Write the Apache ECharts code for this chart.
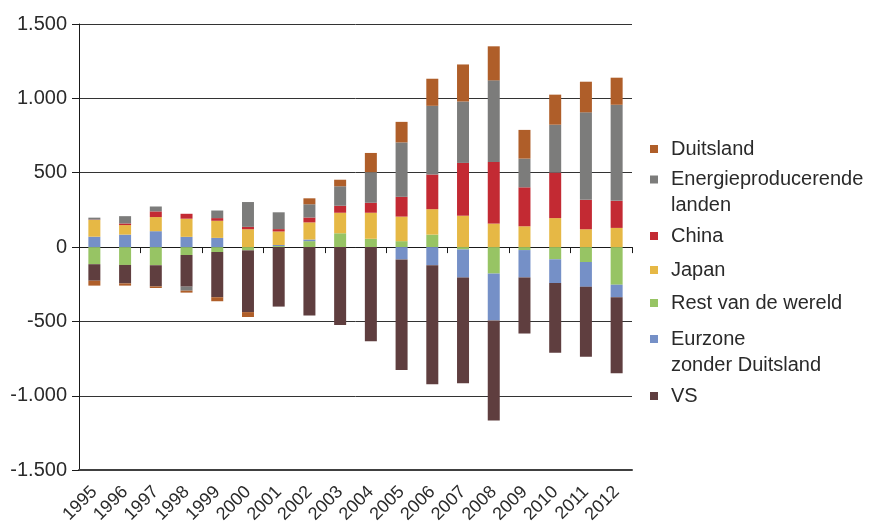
<!DOCTYPE html>
<html>
<head>
<meta charset="utf-8">
<script src="https://cdn.jsdelivr.net/npm/echarts@6/dist/echarts.min.js"></script>
<style>
html,body{margin:0;padding:0;background:#fff;}
#chart{width:869px;height:526px;}
</style>
</head>
<body>
<div id="chart"></div>
<script>
const years = ['1995','1996','1997','1998','1999','2000','2001','2002','2003','2004','2005','2006','2007','2008','2009','2010','2011','2012'];
const yTicks = [-1500, -1000, -500, 0, 500, 1000, 1500];

const restVanDeWereld = [-115, -120, -122, -53, -33, -22, 7, 40, 93, 56, 40, 84, -16, -178, -20, -82, -100, -253];
const eurzone = [70, 84, 107, 69, 62, 0, 7, 11, 0, 0, -83, -122, -189, -315, -184, -160, -167, -84];
const vs = [-111, -124, -142, -213, -304, -415, -400, -460, -524, -633, -744, -800, -710, -673, -377, -468, -471, -511];
const japan = [113, 64, 95, 122, 115, 120, 91, 115, 138, 175, 165, 171, 211, 158, 140, 195, 120, 129];
const china = [2, 11, 38, 33, 18, 16, 16, 33, 47, 67, 133, 233, 355, 415, 262, 306, 198, 182];
const energie = [13, 49, 33, -27, 51, 167, 113, 89, 131, 206, 366, 462, 413, 548, 193, 322, 588, 646];
const duitsland = [-33, -15, -11, -13, -27, -33, 0, 40, 44, 129, 138, 182, 249, 229, 193, 202, 206, 182];

const FONT = 'Liberation Sans, Arial, sans-serif';
const TXT = '#2a2a2a';

const seriesDefs = [
  {name: 'Rest van de wereld', data: restVanDeWereld, color: '#97c464'},
  {name: 'Eurzone zonder Duitsland', data: eurzone, color: '#7590c7'},
  {name: 'VS', data: vs, color: '#5f3e3f'},
  {name: 'Japan', data: japan, color: '#e6b845'},
  {name: 'China', data: china, color: '#c32a33'},
  {name: 'Energieproducerende landen', data: energie, color: '#7c7c7b'},
  {name: 'Duitsland', data: duitsland, color: '#af5e29'}
];

// two-line legend entries: an empty first line keeps the icon beside the first text line
const legendLabels = {
  'Energieproducerende landen': '\nEnergieproducerende\nlanden',
  'Eurzone zonder Duitsland': '\nEurzone\nzonder Duitsland'
};
const legendItems = [
  ['Duitsland', 136],
  ['Energieproducerende landen', 140.5],
  ['China', 223],
  ['Japan', 257],
  ['Rest van de wereld', 290],
  ['Eurzone zonder Duitsland', 300],
  ['VS', 383]
];

function fmt(v) {
  const s = Math.abs(v).toString().replace(/\B(?=(\d{3})+(?!\d))/g, '.');
  return (v < 0 ? '-' : '') + s;
}

const chart = echarts.init(document.getElementById('chart'), null, {renderer: 'canvas'});
chart.setOption({
  animation: false,
  backgroundColor: '#ffffff',
  textStyle: {fontFamily: FONT},
  grid: {left: 79, right: 237, top: 24, bottom: 51.5, containLabel: false},
  legend: legendItems.map(([name, top]) => ({
    data: [name],
    orient: 'vertical',
    left: 650,
    top: top,
    padding: 0,
    itemWidth: 8,
    itemHeight: 8,
    icon: 'rect',
    selectedMode: false,
    formatter: n => legendLabels[n] || n,
    textStyle: {
      fontFamily: FONT, fontSize: 20, color: TXT, lineHeight: 26,
      padding: [0, 0, 0, 8],
      backgroundColor: 'rgba(0,0,0,0)'
    }
  })),
  xAxis: [
    {
      type: 'category', data: years, position: 'bottom',
      axisLine: {onZero: false, lineStyle: {color: '#404040', width: 2}},
      axisTick: {show: false},
      splitLine: {show: false},
      axisLabel: {interval: 0, rotate: 45, margin: 19, fontSize: 18, color: TXT, fontFamily: FONT}
    },
    {
      type: 'category', data: years, position: 'top',
      axisLine: {onZero: true, lineStyle: {color: '#1a1a1a', width: 1}},
      axisTick: {show: true, inside: true, length: 6, lineStyle: {color: '#1a1a1a', width: 1}},
      axisLabel: {show: false},
      splitLine: {show: false}
    }
  ],
  yAxis: {
    type: 'value', min: yTicks[0], max: yTicks[yTicks.length - 1], interval: 500,
    axisLine: {show: true, lineStyle: {color: '#1a1a1a', width: 1}},
    axisTick: {show: true, length: 7, lineStyle: {color: '#1a1a1a'}},
    splitLine: {show: true, lineStyle: {color: '#333333', width: 1}},
    axisLabel: {margin: 12, fontSize: 20, color: TXT, fontFamily: FONT, formatter: fmt}
  },
  series: seriesDefs.map(s => ({
    name: s.name, type: 'bar', stack: 'total', stackStrategy: 'samesign',
    xAxisIndex: 0, data: s.data, barWidth: 12,
    itemStyle: {color: s.color},
    emphasis: {disabled: true}
  }))
});
</script>
</body>
</html>
